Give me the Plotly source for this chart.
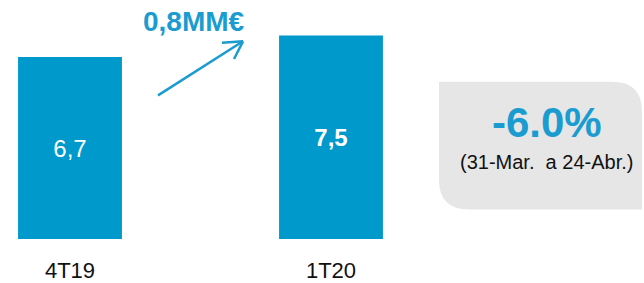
import plotly.graph_objects as go

# ---- data ----
categories = ["4T19", "1T20"]
values = [6.7, 7.5]
bold_flags = [False, True]
delta_label = "0,8MM€"
change_pct = "-6.0%"
change_period = "(31-Mar.  a 24-Abr.)"

# ---- styles ----
W, H = 644, 283
BOTTOM = 40
PLOT_H = H - BOTTOM
BLUE = "#0099CC"
TEXT_BLUE = "#1A9CD0"
GREY = "#E6E6E6"
FONT = "Liberation Sans, Arial, sans-serif"


def px(x):
    return x / W


def py(y):
    return (PLOT_H - y) / PLOT_H


def fmt(v, b):
    s = f"{v:.1f}".replace(".", ",")
    return f"<b>{s}</b>" if b else s


fig = go.Figure()
fig.add_trace(go.Bar(
    x=categories,
    y=values,
    width=0.398,
    marker=dict(color=BLUE, line=dict(width=0)),
    text=[fmt(v, b) for v, b in zip(values, bold_flags)],
    textposition="inside",
    insidetextanchor="middle",
    textangle=0,
    insidetextfont=dict(color="white", size=24, family=FONT),
    hoverinfo="skip",
))

shapes = []
# grey rounded box
x0, x1, y0, y1, r = 439, 642, 83, 213, 30
path = (
    f"M {px(x0)},{py(y0)} "
    f"L {px(x1 - r)},{py(y0)} "
    f"Q {px(x1)},{py(y0)} {px(x1)},{py(y0 + r)} "
    f"L {px(x1)},{py(y1)} "
    f"L {px(x0 + r)},{py(y1)} "
    f"Q {px(x0)},{py(y1)} {px(x0)},{py(y1 - r)} Z"
)
shapes.append(dict(type="path", xref="paper", yref="paper", path=path,
                   fillcolor=GREY, line=dict(width=0), layer="below"))

# arrow
arrow = [((158, 97), (243, 42)), ((243, 42), (222, 43.5)), ((243, 42), (234, 60))]
for (ax, ay), (bx, by) in arrow:
    shapes.append(dict(type="line", xref="paper", yref="paper",
                       x0=px(ax), y0=py(ay), x1=px(bx), y1=py(by),
                       line=dict(color=TEXT_BLUE, width=2.5)))

annotations = [
    dict(text=f"<b>{delta_label}</b>", x=px(194), y=py(22),
         font=dict(size=28, color=TEXT_BLUE, family=FONT)),
    dict(text=f"<b>{change_pct}</b>", x=px(547), y=py(125),
         font=dict(size=42, color=TEXT_BLUE, family=FONT)),
    dict(text=change_period, x=px(546), y=py(165),
         font=dict(size=20, color="#111111", family=FONT)),
]
for a in annotations:
    a.update(xref="paper", yref="paper", showarrow=False,
             xanchor="center", yanchor="middle")

fig.update_layout(
    width=W, height=H,
    margin=dict(l=0, r=0, t=0, b=BOTTOM, pad=0),
    paper_bgcolor="white", plot_bgcolor="white",
    showlegend=False,
    shapes=shapes,
    annotations=annotations,
    xaxis=dict(type="category", range=[-70 / 261, (W - 70) / 261],
               showgrid=False, zeroline=False, showline=False, ticks="",
               ticklabelstandoff=16,
               tickfont=dict(size=22, color="#111111", family=FONT)),
    yaxis=dict(range=[0, PLOT_H / 27.6], visible=False, showgrid=False),
)

fig.write_html("out.html", config={"displayModeBar": False},
               post_script="document.body.style.margin='0';")
